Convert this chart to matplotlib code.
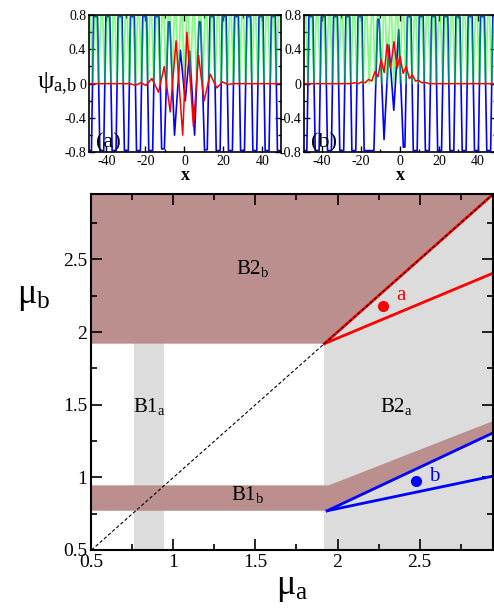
import numpy as np
import matplotlib
matplotlib.use('Agg')
import matplotlib.pyplot as plt
from matplotlib.ticker import MultipleLocator

plt.rcParams['font.family'] = 'serif'
plt.rcParams['font.serif'] = ['Liberation Serif', 'DejaVu Serif']
plt.rcParams['mathtext.fontset'] = 'custom'
plt.rcParams['mathtext.rm'] = 'Liberation Serif'
plt.rcParams['mathtext.it'] = 'Liberation Serif:italic'
plt.rcParams['axes.unicode_minus'] = False

# ==========================
# Wave profiles, panels (a,b)
# ==========================

# lattice potential: minima and maxima (maxima lie above the frame)
green_min = [-47.1, -44.0, -40.8, -37.7, -34.6, -31.4, -28.3, -25.1, -22.0, -18.8,
             -15.7, -12.6, -9.4, -6.3, -3.1, 0.0, 3.1, 6.3, 9.4, 12.6, 15.7, 18.8,
             22.0, 25.1, 28.3, 31.4, 34.6, 37.7, 40.8, 44.0, 47.1]
green_max = [-48.7, -45.6, -42.4, -39.3, -36.1, -33.0, -29.8, -26.7, -23.6, -20.4,
             -17.3, -14.1, -11.0, -7.9, -4.7, -1.6, 1.6, 4.7, 7.9, 11.0, 14.1, 17.3,
             20.4, 23.6, 26.7, 29.8, 33.0, 36.1, 39.3, 42.4, 45.6, 48.7]
green_top = 1.15

blue_a_x = [-49.0, -47.7, -46.6, -44.6, -43.4, -41.4, -40.3, -38.3, -37.1, -35.1,
            -34.0, -32.0, -30.8, -28.8, -27.7, -25.7, -24.6, -22.6, -21.4, -19.4,
            -18.3, -16.3, -15.1, -13.1, -11.7, -10.3, -8.3, -7.5, -5.1, -2.1,
            0.4, 2.7, 5.2, 7.5, 8.3, 10.3, 11.7, 13.1, 15.1, 16.3,
            18.3, 19.4, 21.4, 22.6, 24.6, 25.7, 27.7, 28.8, 30.8, 32.0,
            34.0, 35.1, 37.1, 38.3, 40.3, 41.4, 43.4, 44.6, 46.6, 47.7, 49.6]
blue_a_y = [-0.78, -0.78, 0.78, 0.78, -0.78, -0.78, 0.78, 0.78, -0.78, -0.78,
            0.78, 0.78, -0.78, -0.78, 0.78, 0.78, -0.78, -0.78, 0.78, 0.78,
            -0.78, -0.78, 0.78, 0.78, -0.76, -0.76, 0.72, 0.72, -0.60, 0.39,
            -0.20, 0.38, -0.60, 0.72, 0.72, -0.77, -0.77, 0.78, 0.78, -0.78,
            -0.78, 0.78, 0.78, -0.78, -0.78, 0.78, 0.78, -0.78, -0.78, 0.78,
            0.78, -0.78, -0.78, 0.78, 0.78, -0.78, -0.78, 0.78, 0.78, -0.78, -0.78]

red_a_x = [-49.0, -28.0, -25.2, -22.5, -19.8, -16.7, -13.3, -10.4, -7.3, -4.3, -0.9,
           1.3, 4.6, 7.2, 10.1, 13.2, 16.6, 19.5, 22.3, 25.0, 49.6]
red_a_y = [0.0, 0.0, -0.02, 0.01, -0.02, 0.06, -0.10, 0.20, -0.33, 0.50, -0.60,
           0.60, -0.50, 0.33, -0.20, 0.11, -0.05, 0.02, -0.01, 0.0, 0.0]

blue_b_x = [-49.0, -47.7, -46.6, -44.6, -43.4, -41.4, -40.3, -38.3, -37.1, -35.1,
            -34.0, -32.0, -30.8, -28.8, -27.7, -25.7, -24.6, -22.6, -21.4, -19.4,
            -18.3, -13.3, -11.4, -10.6, -8.1, -5.6, -3.1, -0.6, 1.8, 2.6,
            3.9, 5.7, 6.9, 8.9, 10.0, 12.0, 13.1, 15.1, 16.3, 18.3,
            19.4, 21.4, 22.6, 24.6, 25.7, 27.7, 28.8, 30.8, 32.0, 34.0,
            35.1, 37.1, 38.3, 40.3, 41.4, 43.4, 44.6, 46.6, 47.7, 49.6]
blue_b_y = [-0.78, -0.78, 0.78, 0.78, -0.78, -0.78, 0.78, 0.78, -0.78, -0.78,
            0.78, 0.78, -0.78, -0.78, 0.78, 0.78, -0.78, -0.78, 0.78, 0.78,
            -0.78, -0.78, 0.75, 0.75, -0.65, 0.45, -0.31, 0.63, -0.74, -0.74,
            0.78, 0.78, -0.78, -0.78, 0.78, 0.78, -0.78, -0.78, 0.78, 0.78,
            -0.78, -0.78, 0.78, 0.78, -0.78, -0.78, 0.78, 0.78, -0.78, -0.78,
            0.78, 0.78, -0.78, -0.78, 0.78, 0.78, -0.78, -0.78, 0.78, 0.78]

red_b_x = [-49.0, -26.0, -23.0, -21.2, -19.6, -17.8, -16.0, -14.4, -12.8, -11.2,
           -9.6, -8.0, -6.5, -4.8, -3.0, -1.4, 0.1, 1.7, 3.3, 4.9, 6.5, 8.0,
           9.6, 11.2, 12.8, 15.0, 49.6]
red_b_y = [0.0, 0.0, 0.01, 0.0, 0.02, 0.01, 0.05, 0.03, 0.14, 0.08,
           0.28, 0.13, 0.46, 0.18, 0.49, 0.18, 0.32, 0.12, 0.20, 0.06, 0.10, 0.03,
           0.04, 0.01, 0.015, 0.0, 0.0]

wave_xticks = [-40, -20, 0, 20, 40]
wave_yticks = [-0.8, -0.4, 0, 0.4, 0.8]
wave_yticklabels = ['-0.8', '-0.4', '0', '0.4', '0.8']

# ==================
# Existence diagram
# ==================

b1a = (0.76, 0.94)          # first gap of component a
b2a_left = 1.92             # second gap of component a
b1b = (0.77, 0.945)         # first gap of component b
b2b_bottom = 1.92           # second gap of component b
band_upper = ([1.947, 2.95], [0.945, 1.388])
band_lower = ([1.937, 2.95], [0.77, 1.307])
blue_lines = [([1.937, 2.95], [0.77, 1.307]), ([1.937, 2.95], [0.77, 1.009])]
red_lines = [([1.92, 2.95], [1.92, 2.95]), ([1.92, 2.95], [1.92, 2.406])]
point_a = (2.28, 2.18)
point_b = (2.48, 0.975)
mu_lim = (0.5, 2.95)
mu_ticks = [0.5, 1, 1.5, 2, 2.5]
mu_ticklabels = ['0.5', '1', '1.5', '2', '2.5']

# ==========
# Main code
# ==========

fig = plt.figure(figsize=(4.94, 6.08), dpi=100)
ax_a = fig.add_axes([0.180, 0.7495, 0.3887, 0.2258])
ax_b = fig.add_axes([0.616, 0.7495, 0.3887, 0.2258])
ax = fig.add_axes([0.1852, 0.0954, 0.8134, 0.5855])

green_x = np.sort(np.concatenate([green_min, green_max]))
green_y = np.where(np.isin(green_x, green_max), green_top, 0.0)

for axw, bx, by, rx, ry, tag in [(ax_a, blue_a_x, blue_a_y, red_a_x, red_a_y, '(a)'),
                                 (ax_b, blue_b_x, blue_b_y, red_b_x, red_b_y, '(b)')]:
    axw.plot(bx, by, color='blue', lw=1.2)
    axw.plot(green_x, green_y, color=(0, 1, 0), lw=1.3, alpha=0.5)
    axw.plot(rx, ry, color='red', lw=1.1)
    axw.set_xlim(-49, 49.5)
    axw.set_ylim(-0.8, 0.8)
    axw.set_xticks(wave_xticks)
    axw.set_yticks(wave_yticks)
    axw.set_yticklabels(wave_yticklabels)
    axw.xaxis.set_minor_locator(MultipleLocator(10))
    axw.yaxis.set_minor_locator(MultipleLocator(0.2))
    axw.tick_params(which='both', direction='in', top=True, right=True,
                    labelsize=10, width=1, pad=2)
    axw.tick_params(which='major', length=4)
    axw.tick_params(which='minor', length=2)
    for sp in axw.spines.values():
        sp.set_linewidth(1.2)
    axw.set_xlabel('x', fontsize=13, fontweight='bold', labelpad=-1)
    axw.text(0.035, 0.035, tag, transform=axw.transAxes, fontsize=16)

fig.text(0.115, 0.862, r'$\mathrm{\psi}_\mathrm{a{,}b}$', fontsize=19,
         ha='center', va='center')

# gaps
ax.axvspan(*b1a, color='#dcdcdc', lw=0, zorder=0)
ax.axvspan(b2a_left, mu_lim[1], color='#dcdcdc', lw=0, zorder=0)
ax.fill([mu_lim[0], band_lower[0][0], band_lower[0][1], band_upper[0][1],
         band_upper[0][0], mu_lim[0]],
        [b1b[0], band_lower[1][0], band_lower[1][1], band_upper[1][1],
         band_upper[1][0], b1b[1]],
        color='#bc8f8f', lw=0, zorder=1)
ax.fill([mu_lim[0], b2a_left, mu_lim[1], mu_lim[0]],
        [b2b_bottom, b2b_bottom, mu_lim[1], mu_lim[1]],
        color='#bc8f8f', lw=0, zorder=1)

for xs, ys in blue_lines:
    ax.plot(xs, ys, color='blue', lw=2, zorder=2)
for xs, ys in red_lines:
    ax.plot(xs, ys, color='red', lw=2, zorder=2)
ax.plot(mu_lim, mu_lim, color='black', ls=(0, (3, 2)), lw=0.8, zorder=3)

ax.plot(*point_a, 'o', color='red', ms=7, zorder=4)
ax.plot(*point_b, 'o', color='blue', ms=7, zorder=4)
ax.text(point_a[0] + 0.08, point_a[1] + 0.07, 'a', color='red', fontsize=15,
        ha='left', va='center')
ax.text(point_b[0] + 0.08, point_b[1] + 0.03, 'b', color='blue', fontsize=15,
        ha='left', va='center')

ax.text(1.48, 2.44, r'B2$_\mathrm{b}$', fontsize=15, ha='center', va='center')
ax.text(0.85, 1.49, r'B1$_\mathrm{a}$', fontsize=15, ha='center', va='center')
ax.text(2.36, 1.49, r'B2$_\mathrm{a}$', fontsize=15, ha='center', va='center')
ax.text(1.45, 0.88, r'B1$_\mathrm{b}$', fontsize=15, ha='center', va='center')

ax.set_xlim(mu_lim)
ax.set_ylim(mu_lim)
ax.set_xticks(mu_ticks)
ax.set_xticklabels(mu_ticklabels)
ax.set_yticks(mu_ticks)
ax.set_yticklabels(mu_ticklabels)
ax.xaxis.set_minor_locator(MultipleLocator(0.25))
ax.yaxis.set_minor_locator(MultipleLocator(0.25))
ax.tick_params(which='both', direction='in', top=True, right=True,
               labelsize=14, width=1.2, pad=3)
ax.tick_params(which='major', length=8)
ax.tick_params(which='minor', length=4)
for sp in ax.spines.values():
    sp.set_linewidth(1.5)
    sp.set_zorder(5)

fig.text(0.592, 0.033, r'$\mathrm{\mu}_\mathrm{a}$', fontsize=26,
         ha='center', va='center')
fig.text(0.068, 0.512, r'$\mathrm{\mu}_\mathrm{b}$', fontsize=26,
         ha='center', va='center')

fig.savefig('out.png', dpi=100)
